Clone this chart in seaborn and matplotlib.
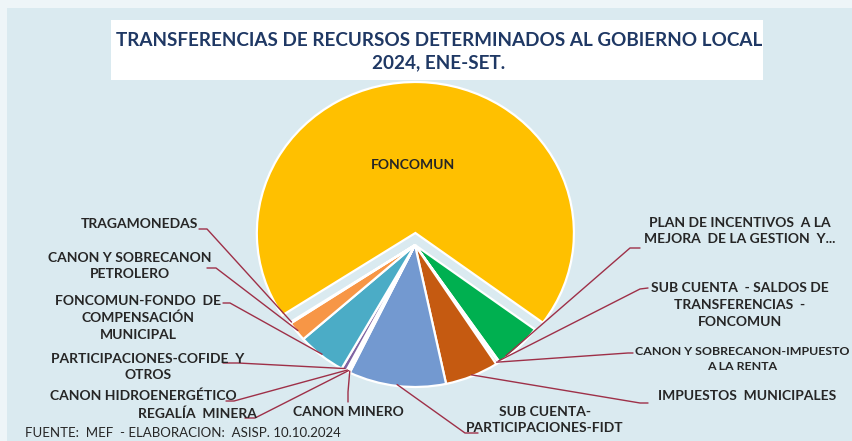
import numpy as np
import matplotlib
matplotlib.use("Agg")
import matplotlib.pyplot as plt
from matplotlib.patches import Rectangle
import seaborn as sns

# datos (participación %, orden horario a partir de FONCOMUN)
categorias = ['FONCOMUN',
              'PLAN DE INCENTIVOS A LA MEJORA DE LA GESTION Y...',
              'SUB CUENTA - SALDOS DE TRANSFERENCIAS - FONCOMUN',
              'CANON Y SOBRECANON-IMPUESTO A LA RENTA',
              'IMPUESTOS MUNICIPALES',
              'SUB CUENTA-PARTICIPACIONES-FIDT',
              'CANON MINERO',
              'REGALÍA MINERA',
              'CANON HIDROENERGÉTICO',
              'PARTICIPACIONES-COFIDE Y OTROS',
              'FONCOMUN-FONDO DE COMPENSACIÓN MUNICIPAL',
              'CANON Y SOBRECANON PETROLERO',
              'TRAGAMONEDAS']
valores = [69.31, 5.28, 0.14, 0.28, 5.83, 10.56, 0.14, 0.14, 0.14, 0.56, 5.28, 2.22, 0.14]

etiquetas = ['FONCOMUN',
             'PLAN DE INCENTIVOS  A LA\nMEJORA  DE LA GESTION  Y...',
             'SUB CUENTA  - SALDOS DE\nTRANSFERENCIAS  -\nFONCOMUN',
             'CANON Y SOBRECANON-IMPUESTO\nA LA RENTA',
             'IMPUESTOS  MUNICIPALES',
             'SUB CUENTA-\nPARTICIPACIONES-FIDT',
             'CANON MINERO',
             'REGALÍA  MINERA',
             'CANON HIDROENERGÉTICO',
             'PARTICIPACIONES-COFIDE  Y\nOTROS',
             'FONCOMUN-FONDO  DE\nCOMPENSACIÓN\nMUNICIPAL',
             'CANON Y SOBRECANON\nPETROLERO',
             'TRAGAMONEDAS']

colores = sns.color_palette(['#FFC000', '#00B050', '#7F7F7F', '#A5A5A5', '#C55A11',
                             '#7399D0', '#264478', '#9E480E', '#636363', '#8064A2',
                             '#4BACC6', '#F79646', '#997300'])

# posiciones de las etiquetas en pixeles: texto (x, y), inicio de linea, codo, tamaño,
# y punto de la cuña donde llega la linea (fraccion del angulo)
layout = [
    None,
    ((740, 231), (640, 248), (630, 248), 10, 0.18),
    ((740, 305), (648, 288), (640, 289), 10, 0.5),
    ((742, 359), (633, 353), (628, 353), 8.9, 0.5),
    ((747, 396), (648, 403), (640, 403), 10, 0.5),
    ((545, 420), (478, 433), (465, 433), 10, 0.5),
    ((348, 412), (348, 402), (348, 392), 10, 0.5),
    ((197, 414), (245, 418), (255, 418), 10, 0.5),
    ((143, 396), (226, 401), (234, 401), 10, 0.5),
    ((148, 367), (223, 363), (238, 363), 10, 0.5),
    ((138, 318), (223, 303), (230, 303), 10, 0.5),
    ((130, 266), (207, 268), (216, 268), 10, 0.5),
    ((139, 224), (199, 229), (207, 229), 10, 0.5),
]

SX = 1.05   # la imagen original esta algo estirada en horizontal
W, H = 853, 441


def px(x, y):
    return x / SX, H - y


sns.set_style('white')
plt.rcParams['font.family'] = ['Lato', 'DejaVu Sans']

fig = plt.figure(figsize=(8.53, 4.41), dpi=100)
fig.patch.set_facecolor('#eef5f8')
ax = fig.add_axes([0, 0, 1, 1])

explode = [12] + [0] * (len(valores) - 1)
cx, cy = px(415, 245)
wedges, _ = ax.pie(valores, colors=colores, startangle=213, counterclock=False,
                   center=(cx, cy), radius=142, explode=explode,
                   wedgeprops=dict(edgecolor='white', linewidth=1.6))
wedges[0].set_radius(151)
for w in wedges:
    w.set_zorder(3)

ax.set_xlim(0, W / SX)
ax.set_ylim(0, H)
ax.set_aspect('auto')
ax.axis('off')

# fondo y caja del titulo
x0, y0 = px(7, 441)
x1, y1 = px(853, 8)
ax.add_patch(Rectangle((x0, y0), x1 - x0, y1 - y0, facecolor='#daeaf0', edgecolor='none', zorder=0))
bx0, by0 = px(111, 80)
bx1, by1 = px(763, 20)
ax.add_patch(Rectangle((bx0, by0), bx1 - bx0, by1 - by0, facecolor='white', edgecolor='none', zorder=1))
ax.text(*px(439, 40), 'TRANSFERENCIAS DE RECURSOS DETERMINADOS AL GOBIERNO LOCAL',
        ha='center', va='center', fontsize=13.6, fontweight='bold', color='#1F3864', zorder=4)
ax.text(*px(439, 63), '2024, ENE-SET.', ha='center', va='center',
        fontsize=13.6, fontweight='bold', color='#1F3864', zorder=4)

# etiqueta interna
ax.text(*px(413, 165), etiquetas[0], ha='center', va='center', fontsize=10,
        fontweight='bold', color='#262626', zorder=5)

# etiquetas con lineas guia
for w, lab, lay in zip(wedges[1:], etiquetas[1:], layout[1:]):
    (tx, ty), (sx, sy), (ex, ey), fs, frac = lay
    ang = np.deg2rad(w.theta1 + frac * (w.theta2 - w.theta1))
    wx = w.center[0] + w.r * 0.99 * np.cos(ang)
    wy = w.center[1] + w.r * 0.99 * np.sin(ang)
    p1 = px(sx, sy)
    p2 = px(ex, ey)
    ax.plot([p1[0], p2[0], wx], [p1[1], p2[1], wy], color='#9E3048', lw=1.0, zorder=4)
    ax.text(*px(tx, ty), lab, ha='center', va='center', fontsize=fs, fontweight='bold',
            color='#262626', linespacing=1.45, zorder=5)

ax.text(*px(25, 433), 'FUENTE:  MEF  - ELABORACION:  ASISP. 10.10.2024', ha='left', va='center',
        fontsize=9.5, color='#262626', zorder=5)

fig.savefig('out.png', dpi=100, facecolor=fig.get_facecolor())
